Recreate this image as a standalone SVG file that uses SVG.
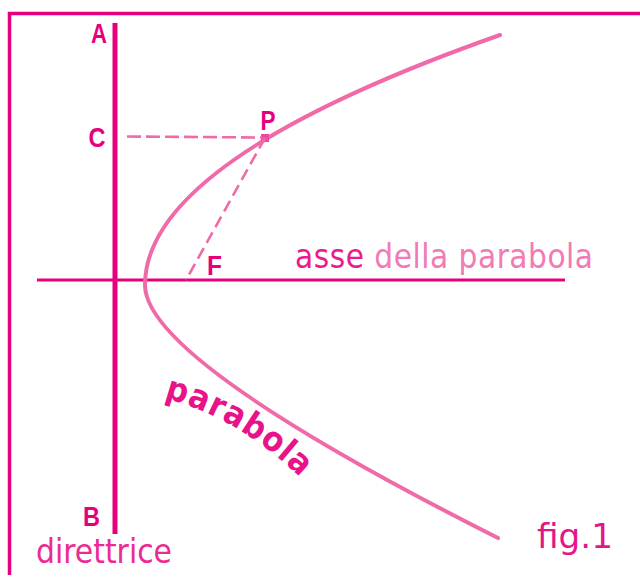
<svg xmlns="http://www.w3.org/2000/svg" width="640" height="577" viewBox="0 0 640 577">
  <style>
    .strong { stroke: #e6007e; fill: none; }
    .pink { stroke: #f06aa8; fill: none; }
    .lbl { font-family: "Liberation Sans", Arial, sans-serif; font-weight: bold; font-size: 27px; fill: #e6007e; text-anchor: middle; }
    .txt { font-family: "DejaVu Sans Condensed", "DejaVu Sans", sans-serif; font-size: 33px; }
    .dash { stroke: #f06aa8; fill: none; stroke-width: 2.6; }
  </style>
  <defs>
    <path id="labelPath" d="M164,398 Q250,420 322,500"/>
  </defs>
  <rect width="640" height="577" fill="#ffffff"/>
  <g id="frame">
    <path class="strong" d="M9.5,575 V13.5 H640" stroke-width="3.5"/>
  </g>
  <g id="directrix">
    <line class="strong" x1="115" y1="23" x2="115" y2="534" stroke-width="5"/>
    <text class="lbl" x="99" y="43" textLength="16" lengthAdjust="spacingAndGlyphs">A</text>
    <text class="lbl" x="97" y="147" textLength="17" lengthAdjust="spacingAndGlyphs">C</text>
    <text class="lbl" x="91.5" y="526" textLength="17" lengthAdjust="spacingAndGlyphs">B</text>
    <text class="txt" x="36" y="563" fill="#ec2a94" textLength="136" lengthAdjust="spacingAndGlyphs">direttrice</text>
  </g>
  <g id="axis">
    <line class="strong" x1="37" y1="280" x2="565" y2="280" stroke-width="3"/>
    <text class="txt" x="295" y="268" textLength="298" lengthAdjust="spacing"><tspan fill="#ec1a8c">asse </tspan><tspan fill="#f27ab5">della parabola</tspan></text>
  </g>
  <g id="parabola">
    <path class="pink" d="M500,35 Q145,160 145,285 Q145,360 498,538" stroke-width="4" stroke-linecap="round"/>
    <text font-family="DejaVu Sans Condensed, DejaVu Sans, sans-serif" font-weight="bold" font-size="34" fill="#e8128a" letter-spacing="1"><textPath href="#labelPath">parabola</textPath></text>
  </g>
  <g id="point-P">
    <rect x="261" y="134" width="8" height="8" fill="#ee4a9c"/>
    <text class="lbl" x="268" y="130" textLength="15" lengthAdjust="spacingAndGlyphs">P</text>
  </g>
  <g id="point-F">
    <text class="lbl" x="214.5" y="275" textLength="15" lengthAdjust="spacingAndGlyphs">F</text>
  </g>
  <g id="connectors">
    <line class="dash" x1="127" y1="136.5" x2="262" y2="137.5" stroke-dasharray="14 5"/>
    <line class="dash" x1="265" y1="138" x2="186" y2="280" stroke-width="3" stroke-dasharray="12 6"/>
  </g>
  <g id="caption">
    <text class="txt" x="537" y="548" font-size="36" fill="#e6148a" textLength="76" lengthAdjust="spacingAndGlyphs">fig.1</text>
  </g>
</svg>
